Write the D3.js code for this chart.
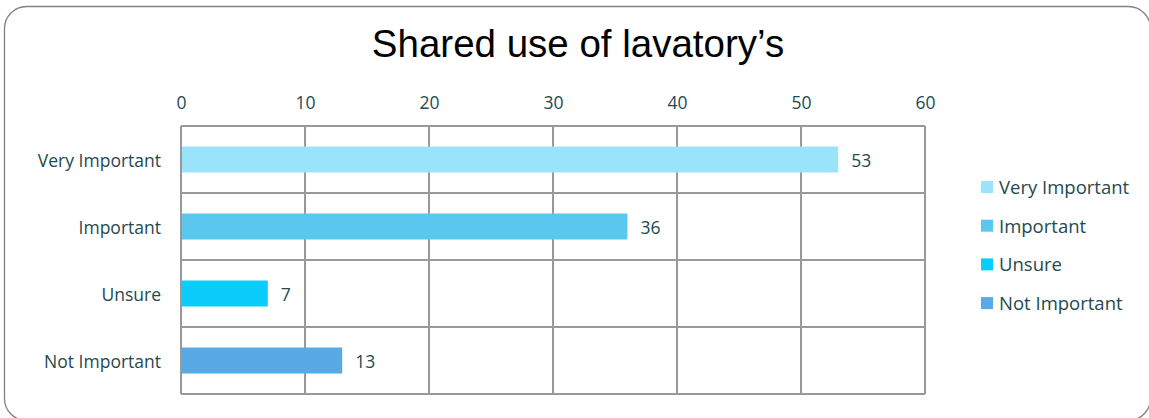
<!DOCTYPE html>
<html>
<head>
<meta charset="utf-8">
<script src="https://cdn.jsdelivr.net/npm/d3@7"></script>
<style>
  body { margin: 0; background: #fff; }
  text { font-family: "Open Sans", sans-serif; }
</style>
</head>
<body>
<div class="vis-barChart"></div>
<script>
var categories = ["Very Important", "Important", "Unsure", "Not Important"];
var values = [53, 36, 7, 13];
var colors = ["#99E3FB", "#59C7EE", "#0BCDFC", "#59A9E4"];
var tickValues = [0, 10, 20, 30, 40, 50, 60];

var W = 1149, H = 418;
var margin = {top: 126, left: 181, right: 224, bottom: 24};
var width = W - margin.left - margin.right,
    height = H - margin.top - margin.bottom;

var svg = d3.select('.vis-barChart').append('svg')
    .attr("width", W)
    .attr("height", H);

// rounded outer frame
svg.append("rect")
    .attr("x", 4.5).attr("y", 6.5)
    .attr("width", 1146).attr("height", 414)
    .attr("rx", 22)
    .attr("fill", "none")
    .attr("stroke", "#808080")
    .attr("stroke-width", 1.3);

svg.append("text")
    .attr("x", 578).attr("y", 57)
    .attr("text-anchor", "middle")
    .style("font-family", "'Liberation Sans', Arial, sans-serif")
    .style("font-size", "38.5px")
    .attr("fill", "#000")
    .text("Shared use of lavatory\u2019s");

var g = svg.append("g")
    .attr("transform", "translate(" + margin.left + "," + margin.top + ")");

var x = d3.scaleLinear().domain([0, 60]).range([0, width]);
var y = d3.scaleBand().domain(categories).range([0, height]);

var textColor = "#24494f";

// vertical grid lines
g.selectAll(".vgrid")
    .data(tickValues)
    .enter().append("line")
    .attr("x1", function(d) { return x(d); })
    .attr("x2", function(d) { return x(d); })
    .attr("y1", 0).attr("y2", height)
    .attr("stroke", "#999").attr("stroke-width", 2);

// horizontal separators
var bounds = categories.map(function(c) { return y(c); }).concat([height]);
g.selectAll(".hgrid")
    .data(bounds)
    .enter().append("line")
    .attr("x1", 0).attr("x2", width)
    .attr("y1", function(d) { return d; })
    .attr("y2", function(d) { return d; })
    .attr("stroke", "#999").attr("stroke-width", 2);

// top axis labels
var xAxis = g.append("g").call(d3.axisTop(x).tickValues(tickValues).tickSize(0).tickPadding(17));
xAxis.select(".domain").remove();
xAxis.selectAll("text")
    .style("font-size", "17.5px")
    .attr("fill", textColor);

// category labels
var yAxis = g.append("g").call(d3.axisLeft(y).tickSize(0).tickPadding(20));
yAxis.select(".domain").remove();
yAxis.selectAll("text")
    .attr("dy", "0.45em")
    .style("font-size", "17.5px")
    .attr("fill", textColor);

var barH = 26;
g.selectAll(".bar")
    .data(values)
    .enter().append("rect")
    .attr("x", x(0) + 1)
    .attr("y", function(d, i) { return y(categories[i]) + y.bandwidth() / 2 - barH / 2; })
    .attr("width", function(d) { return x(d) - x(0) - 1; })
    .attr("height", barH)
    .attr("fill", function(d, i) { return colors[i]; });

g.selectAll(".val")
    .data(values)
    .enter().append("text")
    .attr("x", function(d) { return x(d) + 13; })
    .attr("y", function(d, i) { return y(categories[i]) + y.bandwidth() / 2; })
    .attr("dy", "0.45em")
    .style("font-size", "17.5px")
    .attr("fill", textColor)
    .text(function(d) { return d; });

// legend
var legend = svg.append("g").attr("transform", "translate(981,187)");
var item = legend.selectAll(".item")
    .data(categories)
    .enter().append("g")
    .attr("transform", function(d, i) { return "translate(0," + i * 38.7 + ")"; });
item.append("rect")
    .attr("x", 0).attr("y", -6)
    .attr("width", 12).attr("height", 12)
    .attr("fill", function(d, i) { return colors[i]; });
item.append("text")
    .attr("x", 18).attr("dy", "0.38em")
    .style("font-size", "18.5px")
    .attr("fill", textColor)
    .text(function(d) { return d; });
</script>
</body>
</html>
